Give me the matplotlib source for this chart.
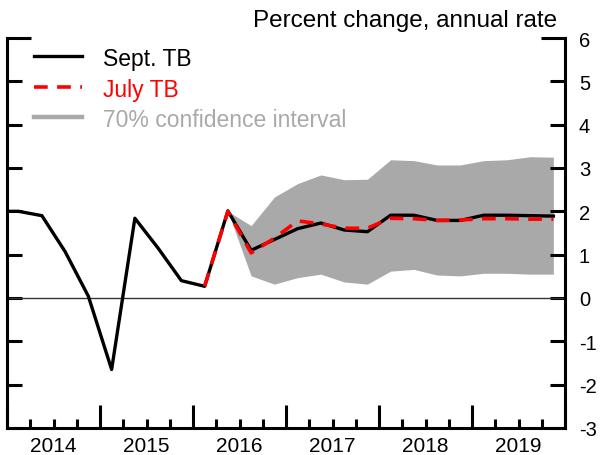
import numpy as np
import matplotlib.pyplot as plt
from matplotlib.lines import Line2D
from matplotlib.transforms import blended_transform_factory

plt.rcParams['font.family'] = ['Liberation Sans', 'DejaVu Sans']
plt.rcParams['axes.unicode_minus'] = False

# quarters: 2013Q4 .. 2019Q4 (first point is clipped by the axis)
years = [2013] + [y for y in range(2014, 2020) for _ in range(4)]
quarters = [4] + [q for _ in range(2014, 2020) for q in range(1, 5)]

sept_tb = [2.0, 2.0, 1.90, 1.07, 0.04, -1.65, 1.84, 1.15, 0.40, 0.27, 2.01,
           1.10, 1.35, 1.60, 1.73, 1.57, 1.53, 1.91, 1.91, 1.79, 1.79,
           1.91, 1.91, 1.90, 1.89]

# July TB starts at 2016Q1
july_tb = [0.27, 2.0, 1.04, 1.38, 1.78, 1.71, 1.61, 1.61, 1.84, 1.83,
           1.79, 1.80, 1.83, 1.83, 1.82, 1.82]

# confidence interval starts at 2016Q2
ci_upper = [2.0, 1.67, 2.33, 2.64, 2.84, 2.73, 2.74, 3.19, 3.17, 3.07,
            3.07, 3.17, 3.19, 3.26, 3.25]
ci_lower = [2.0, 0.51, 0.32, 0.47, 0.55, 0.37, 0.32, 0.62, 0.66, 0.53,
            0.51, 0.57, 0.57, 0.55, 0.55]

year_labels = ["2014", "2015", "2016", "2017", "2018", "2019"]
legend_labels = ["Sept. TB", "July TB", "70% confidence interval"]

GRAY = '#a9a9a9'
RED_DASH = (3.8, 2.6)

x = np.array(years) + (np.array(quarters) - 0.5) / 4
x_july = x[-len(july_tb):]
x_ci = x[-len(ci_upper):]

W, H = 602, 456
fig = plt.figure(figsize=(W / 100, H / 100), dpi=100)
ax = fig.add_axes([7 / W, 1 - 429 / H, 558 / W, 390 / H])

ax.fill_between(x_ci, ci_lower, ci_upper, color=GRAY, lw=0)
ax.axhline(0, color='#333333', lw=1.0)
ax.plot(x, sept_tb, color='black', lw=2.4, zorder=3)
ax.plot(x_july, july_tb, color='red', lw=2.6, dashes=RED_DASH, zorder=4)

ax.set_xlim(2014, 2020)
ax.set_ylim(-3, 6)

ax.spines['top'].set_visible(False)
for s in ['left', 'right', 'bottom']:
    ax.spines[s].set_linewidth(2.2)

ax.yaxis.tick_right()
ax.set_yticks(range(-3, 7))
ax.tick_params(axis='y', which='major', direction='in', length=11, width=2.2,
               left=True, right=True, labelleft=False, labelright=True,
               labelsize=14.5, pad=10)
# top tick is longer, closing the frame
top = ax.yaxis.get_major_ticks()[-1]
top.tick1line.set_markersize(17)
top.tick2line.set_markersize(17)

ax.set_xticks(range(2014, 2021))
ax.set_xticks(np.arange(2014, 2020, 0.25), minor=True)
ax.set_xticklabels([])
ax.tick_params(axis='x', which='major', direction='in', length=16.5, width=2.2)
ax.tick_params(axis='x', which='minor', direction='in', length=6.5, width=2.2)

trans = blended_transform_factory(ax.transData, fig.transFigure)
for i, lab in enumerate(year_labels):
    ax.text(2014.5 + i, 1 - 452 / H, lab, transform=trans, ha='center',
            va='baseline', fontsize=15)

fig.text(557 / W, 1 - 27 / H, 'Percent change, annual rate', ha='right',
         va='baseline', fontsize=17.5)

# legend keys drawn by hand to match the reference placement
keys = [dict(color='black', lw=2.4),
        dict(color='red', lw=2.6, dashes=RED_DASH),
        dict(color=GRAY, lw=3.2)]
text_colors = ['black', 'red', GRAY]
rows_y = [57, 88, 118]
for yy, kw, lab, tc in zip(rows_y, keys, legend_labels, text_colors):
    fig.add_artist(Line2D([34 / W, 82 / W], [1 - yy / H] * 2,
                          transform=fig.transFigure, **kw))
    fig.text(103 / W, 1 - yy / H, lab, color=tc, fontsize=16.5,
             ha='left', va='center_baseline')

fig.savefig('out.png', dpi=100)
